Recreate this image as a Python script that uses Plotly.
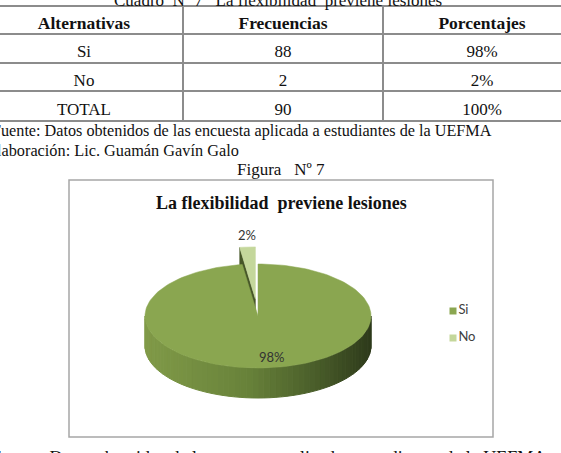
import math
import plotly.graph_objects as go

# ---- data ----
categorias = ["Si", "No"]
frecuencias = [88, 2]
porcentajes = [98, 2]
encabezados = ["Alternativas", "Frecuencias", "Porcentajes"]
fila_total = "TOTAL"
titulo_cuadro = "Cuadro  Nº 7   La flexibilidad  previene lesiones"
fuente = "Fuente: Datos obtenidos de las encuesta aplicada a estudiantes de la UEFMA"
elaboracion = "Elaboración: Lic. Guamán Gavín Galo"
titulo_figura = "Figura   Nº 7"
titulo_grafico = "La flexibilidad  previene lesiones"

W, H = 561, 453
SERIF = "Liberation Serif"
SANS = "Lato"
INK = "#111111"
GRID = "#8c8c8c"

fig = go.Figure()

# ---- table (its own axes, units = pixels) ----
col1 = categorias + [fila_total]
col2 = [str(v) for v in frecuencias] + [str(sum(frecuencias))]
col3 = [f"{p}%" for p in porcentajes] + [f"{sum(porcentajes)}%"]
columnas = [col1, col2, col3]

t_top, head_h, row_h = 7, 27, 28.7
col_edges = [-15, 183, 383, 581]
row_bottoms = [t_top + head_h + k * row_h for k in range(len(col1) + 1)]
t_bot = row_bottoms[-1]
col_centers = [(col_edges[i] + col_edges[i + 1]) / 2 for i in range(3)]

fig.add_trace(go.Scatter(
    x=col_centers, y=[row_bottoms[0] - 9.5] * 3, text=encabezados, mode="text",
    textfont=dict(family=SERIF, size=17.5, color=INK, weight="bold"),
    xaxis="x2", yaxis="y2", cliponaxis=False, hoverinfo="skip", showlegend=False))
bx, by, bt = [], [], []
for ci, col in enumerate(columnas):
    for ri, val in enumerate(col):
        bx.append(col_centers[ci]); by.append(row_bottoms[ri + 1] - 9.5); bt.append(val)
fig.add_trace(go.Scatter(
    x=bx, y=by, text=bt, mode="text",
    textfont=dict(family=SERIF, size=17, color=INK),
    xaxis="x2", yaxis="y2", cliponaxis=False, hoverinfo="skip", showlegend=False))

# ---- 3D-looking pie drawn from the data ----
cx, cy, rx, ry, depth = 258, 316, 113, 52, 30
total = sum(frecuencias)
top_colors = ["rgb(138,166,80)", "rgb(196,215,155)"]
dark_face = "rgb(70,86,40)"
explode = [0.0, 0.33]

def pt(theta, dx=0.0, dy=0.0, down=0.0):
    r = math.radians(theta)
    return cx + rx * math.sin(r) + dx, cy - ry * math.cos(r) + dy + down

angles = []
a = 0.0
for v in frecuencias:
    angles.append((a, a + 360.0 * v / total))
    a += 360.0 * v / total

def lerp_col(t):
    stops = [(0.0, (128, 154, 72)), (0.45, (104, 130, 58)), (0.75, (74, 94, 42)), (1.0, (46, 58, 27))]
    for (t0, c0), (t1, c1) in zip(stops[:-1], stops[1:]):
        if t <= t1:
            f = (t - t0) / (t1 - t0)
            return "rgb(%d,%d,%d)" % tuple(round(c0[k] + f * (c1[k] - c0[k])) for k in range(3))
    return "rgb(%d,%d,%d)" % stops[-1][1]

def slice_top(i):
    s, e = angles[i]
    mid = (s + e) / 2
    dx = explode[i] * rx * math.sin(math.radians(mid))
    dy = -explode[i] * ry * math.cos(math.radians(mid))
    n = max(4, int((e - s) / 2))
    xs, ys = [cx + dx], [cy + dy]
    for k in range(n + 1):
        x, y = pt(s + (e - s) * k / n, dx, dy)
        xs.append(x); ys.append(y)
    xs.append(cx + dx); ys.append(cy + dy)
    return xs, ys, dx, dy

# exploded "No" slice first (behind)
xs, ys, dx, dy = slice_top(1)
s1 = angles[1][0]
rxp, ryp = pt(s1, dx, dy)
fig.add_trace(go.Scatter(x=[cx + dx, rxp, rxp, cx + dx, cx + dx],
                         y=[cy + dy, ryp, ryp + depth, cy + dy + depth, cy + dy],
                         fill="toself", fillcolor=dark_face, mode="lines",
                         line=dict(color=dark_face, width=0.5), hoverinfo="skip", showlegend=False))
fig.add_trace(go.Scatter(x=xs, y=ys, fill="toself", fillcolor=top_colors[1], mode="lines",
                         line=dict(color=top_colors[1], width=0.5), hoverinfo="skip", showlegend=False))

# side wall of "Si" (front half) with gradient strips
s0, e0 = angles[0]
lo, hi = max(90.0, s0), min(270.0, e0)
N = 60
for k in range(N):
    ta = lo + (hi - lo) * k / N
    tb = lo + (hi - lo) * (k + 1) / N
    xa, ya = pt(ta)
    xb, yb = pt(tb)
    t = ((xa + xb) / 2 - (cx - rx)) / (2 * rx)
    c = lerp_col(min(max(t, 0), 1))
    fig.add_trace(go.Scatter(x=[xa, xb, xb, xa, xa], y=[ya, yb, yb + depth, ya + depth, ya],
                             fill="toself", fillcolor=c, mode="lines", line=dict(color=c, width=1),
                             hoverinfo="skip", showlegend=False))

xs, ys, _, _ = slice_top(0)
fig.add_trace(go.Scatter(x=xs, y=ys, fill="toself", fillcolor=top_colors[0], mode="lines",
                         line=dict(color=top_colors[0], width=0.5), hoverinfo="skip", showlegend=False))

# percentage labels
label_pos = [(272, 357), (247, 235)]
for p, (lx, ly) in zip(porcentajes, label_pos):
    fig.add_annotation(x=lx, y=ly, xref="x", yref="y", text=f"{p}%", showarrow=False,
                       font=dict(family=SANS, size=13, color="#333333"))

# legend
fig.add_trace(go.Scatter(x=[453, 453], y=[311, 338], mode="markers+text", text=categorias,
                         textposition="middle right",
                         textfont=dict(family=SANS, size=13, color="#404040"),
                         marker=dict(symbol="square", size=7, color=top_colors),
                         hoverinfo="skip", showlegend=False))

# chart frame
fig.add_shape(type="rect", xref="x", yref="y", x0=69, y0=180, x1=493, y1=437,
              line=dict(color="#a6a6a6", width=1.5))

# texts
fig.add_annotation(x=278, y=0, xref="x", yref="y", text=titulo_cuadro, showarrow=False,
                   xanchor="center", yanchor="middle", font=dict(family=SERIF, size=17, color=INK))
fig.add_annotation(x=494, y=131, xref="x", yref="y", text=fuente, showarrow=False,
                   xanchor="right", yanchor="middle", font=dict(family=SERIF, size=16.2, color=INK))
fig.add_annotation(x=241, y=150, xref="x", yref="y", text=elaboracion, showarrow=False,
                   xanchor="right", yanchor="middle", font=dict(family=SERIF, size=16.3, color=INK))
fig.add_annotation(x=281, y=169, xref="x", yref="y", text=titulo_figura, showarrow=False,
                   xanchor="center", yanchor="middle", font=dict(family=SERIF, size=17, color=INK))
fig.add_annotation(x=281, y=203, xref="x", yref="y", text=f"<b>{titulo_grafico}</b>", showarrow=False,
                   xanchor="center", yanchor="middle", font=dict(family=SERIF, size=18, color=INK))
fig.add_annotation(x=548 / W, y=(H - 458) / H, xref="paper", yref="paper", text=fuente, showarrow=False,
                   xanchor="right", yanchor="middle", font=dict(family=SERIF, size=18, color=INK))

fig.update_layout(
    width=W, height=H, margin=dict(l=0, r=0, t=0, b=0),
    paper_bgcolor="white", plot_bgcolor="rgba(0,0,0,0)", showlegend=False,
    xaxis=dict(range=[0, W], visible=False, fixedrange=True, domain=[0, 1]),
    yaxis=dict(range=[H, 0], visible=False, fixedrange=True, domain=[0, 1]),
    xaxis2=dict(range=[0, W], domain=[0, 1], anchor="y2", fixedrange=True,
                tickvals=col_edges[1:-1], showticklabels=False, ticks="",
                showgrid=True, gridcolor=GRID, gridwidth=1.5, zeroline=False,
                showline=True, mirror=True, linecolor=GRID, linewidth=1.5),
    yaxis2=dict(range=[t_bot, t_top], domain=[1 - t_bot / H, 1 - t_top / H], anchor="x2",
                fixedrange=True, tickvals=row_bottoms[:-1], showticklabels=False, ticks="",
                showgrid=True, gridcolor=GRID, gridwidth=1.5, zeroline=False, showline=False),
)

fig.write_html("out.html")
